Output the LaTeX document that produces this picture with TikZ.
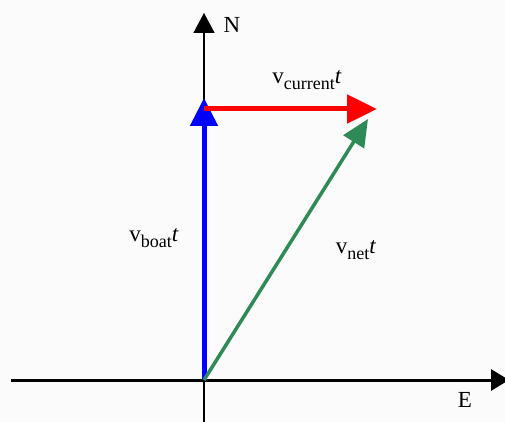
\documentclass[tikz,border=0pt]{standalone}
\usepackage{fontspec}
\setmainfont{Liberation Serif}
\usetikzlibrary{arrows.meta}
\definecolor{bg}{RGB}{250,251,250}
\definecolor{vblue}{RGB}{0,0,255}
\definecolor{vred}{RGB}{255,0,0}
\definecolor{vgreen}{RGB}{46,139,87}
\tikzset{
  lbl/.style={font=\fontsize{23}{25}\selectfont, inner sep=0pt},
  axlbl/.style={font=\fontsize{23}{25}\selectfont, inner sep=0pt},
  vec/.style={line width=5pt},
}
\newcommand{\sbs}[1]{\raisebox{-0.28em}{\fontsize{18}{20}\selectfont #1}}
\begin{document}
\begin{tikzpicture}[x=1pt,y=-1pt]
\fill[bg] (0,0) rectangle (505,422);
\clip (0,0) rectangle (505,422);
\coordinate (O) at (204,380);
\coordinate (W) at (11,380);
\coordinate (Eend) at (509,380);
\coordinate (S) at (204,422);
\coordinate (Ntop) at (204,13);
\coordinate (B) at (204,98);
\coordinate (Rs) at (204,109);
\coordinate (Re) at (377,109);
\coordinate (G) at (368,119);
% axes
\draw[line width=3pt, -{Triangle[length=18pt,width=21pt]}] (W) -- (Eend);
\draw[line width=1.6pt, -{Triangle[length=20pt,width=21pt]}] (S) -- (Ntop);
% vectors
\draw[vblue, vec, -{Triangle[length=28pt,width=27pt]}] (O) -- (B);
\draw[vgreen, line width=3.5pt, -{Triangle[length=27pt,width=24pt]}] (O) -- (G);
\draw[vred, vec, -{Triangle[length=30pt,width=28pt]}] (Rs) -- (Re);
% labels
\node[axlbl] (Nl) at (232,25) {N};
\node[axlbl] (El) at (465,400) {E};
\node[lbl] (lc) at (307,80) {v\sbs{current}\textit{t}};
\node[lbl] (lb) at (154,238) {v\sbs{boat}\textit{t}};
\node[lbl] (ln) at (356,250) {v\sbs{net}\textit{t}};
\end{tikzpicture}
\end{document}
